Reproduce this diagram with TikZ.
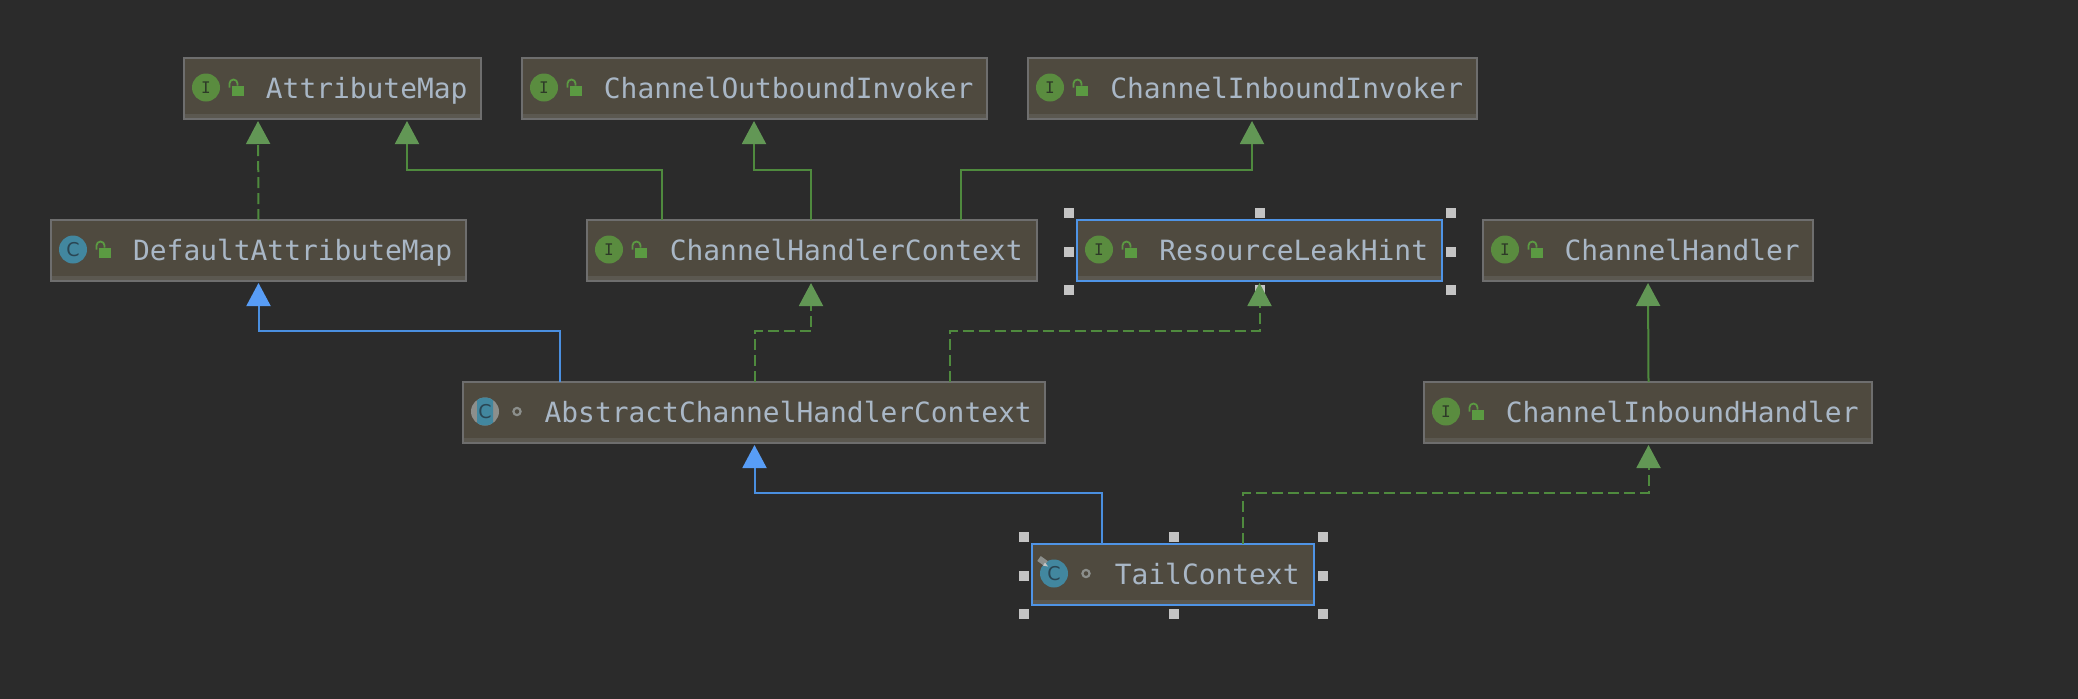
\documentclass[tikz,border=0pt]{standalone}
\usepackage{fontspec}
\setmonofont{DejaVu Sans Mono}
\setsansfont{DejaVu Sans}
\usetikzlibrary{arrows.meta,calc}
\definecolor{bgc}{HTML}{2B2B2B}
\definecolor{boxfill}{HTML}{4F4A3F}
\definecolor{boxband}{HTML}{5B5850}
\definecolor{boxline}{HTML}{6E6E6E}
\definecolor{selblue}{HTML}{4F94E6}
\definecolor{txt}{HTML}{A9B7C6}
\definecolor{greenline}{HTML}{4F8A3E}
\definecolor{greentip}{HTML}{629755}
\definecolor{bluetip}{HTML}{589DF6}
\definecolor{blueline}{HTML}{4A8FE0}
\definecolor{icongreen}{HTML}{5A8C3F}
\definecolor{lockgreen}{HTML}{5B9A42}
\definecolor{iconteal}{HTML}{42879F}
\definecolor{iconink}{HTML}{2A4654}
\definecolor{iink}{HTML}{2E3A28}
\definecolor{icongrey}{HTML}{8C8F8C}
\definecolor{handlec}{HTML}{C4C4C4}
\tikzset{
  x=0.5pt,y=-0.5pt,
  umlbox/.style={draw=boxline,fill=boxfill,line width=1pt,inner sep=0pt,outer sep=0pt,rectangle,
    text=txt,font=\ttfamily\fontsize{13.95}{16}\selectfont,text height=9.5pt,text depth=0pt,
    path picture={\fill[boxband] ($(path picture bounding box.south west)+(0,-5)$) rectangle (path picture bounding box.south east);}},
  selbox/.style={umlbox,draw=selblue},
  handlebox/.style={rectangle,fill=handlec,minimum size=5pt,inner sep=0pt},
  badge/.style={circle,minimum size=14pt,inner sep=0pt},
  ibadge/.style={badge,fill=icongreen,text=iink,font=\ttfamily\fontsize{8}{8}\selectfont},
  cbadge/.style={badge,fill=iconteal,text=iconink,font=\sffamily\fontsize{9.5}{9}\selectfont},
  gline/.style={draw=greenline,line width=1pt,-{Triangle[length=11.5pt,width=12pt,color=greentip,fill=greentip]}},
  gdash/.style={gline,dash pattern=on 5.5pt off 2.5pt},
  bline/.style={draw=blueline,line width=1pt,-{Triangle[length=11.5pt,width=12pt,color=bluetip,fill=bluetip]}},
}
\newcommand{\umlnode}[7][umlbox]{%
  \node[#1,minimum width={(#5-#3)*0.5pt},minimum height={(#6-#4)*0.5pt}] (#2) at ({(#3+#5)/2},{(#4+#6)/2}) {\hspace*{34.2pt}#7};}
\newcommand{\lockicon}[1]{%
  \fill[lockgreen] ($(#1.west)+(48,-3)$) rectangle ($(#1.west)+(60,7)$);
  \draw[lockgreen,line width=0.9pt] ($(#1.west)+(45.5,-1)$) -- ($(#1.west)+(45.5,-5)$) arc[start angle=180,end angle=360,radius=4] -- ($(#1.west)+(53.5,-3)$);}
\newcommand{\iicon}[1]{%
  \node[ibadge] (#1I) at ($(#1.west)+(22,-1)$) {I};\lockicon{#1}}
\newcommand{\cicon}[1]{%
  \node[cbadge] (#1C) at ($(#1.west)+(22,-1)$) {C};}
\newcommand{\pkgdot}[1]{%
  \draw[icongrey,line width=1.1pt] ($(#1.west)+(54,-1)$) circle[radius=3.6];}
\newcommand{\handles}[1]{%
  \foreach \a/\dx/\dy in {north west/-8/-7,north/0.5/-7,north east/9/-7,west/-8/1,east/9/1,south west/-8/9,south/0.5/9,south east/9/9}{%
    \node[handlebox] (#1 h \a) at ($(#1.\a)+(\dx,\dy)$) {};}}
\newcommand{\connS}[5]{% style, from, dx, to, dx
  \draw[#1] ($(#2.north)+(#3,0)$) -- ($(#4.south)+(#5,2)$);}
\newcommand{\connE}[6]{% style, from, dx, to, dx, mid offset
  \draw[#1] ($(#2.north)+(#3,0)$) |- ($(#4.south)+(#5,#6)$) -- ($(#4.south)+(#5,2)$);}
\begin{document}
\begin{tikzpicture}
\useasboundingbox (0,0) rectangle (2078,698);
\fill[bgc] (-5,-5) rectangle (2083,703);
% nodes
\umlnode{attr}{184}{58}{481}{119}{AttributeMap}
\umlnode{out}{522}{58}{987}{119}{ChannelOutboundInvoker}
\umlnode{in}{1028}{58}{1477}{119}{ChannelInboundInvoker}
\umlnode{dam}{51}{220}{466}{281}{DefaultAttributeMap}
\umlnode{chc}{587}{220}{1037}{281}{ChannelHandlerContext}
\umlnode[selbox]{rlh}{1077}{220}{1442}{281}{ResourceLeakHint}
\handles{rlh}
\umlnode{ch}{1483}{220}{1813}{281}{ChannelHandler}
\umlnode{acc}{463}{382}{1045}{443}{AbstractChannelHandlerContext}
\umlnode{cih}{1424}{382}{1872}{443}{ChannelInboundHandler}
\umlnode[selbox]{tail}{1032}{544}{1314}{605}{TailContext}
\handles{tail}
% icons
\iicon{attr}\iicon{out}\iicon{in}\iicon{chc}\iicon{rlh}\iicon{ch}\iicon{cih}
\cicon{dam}\lockicon{dam}
\fill[icongrey] ($(acc.west)+(22,-1)$) circle[radius=14];
\begin{scope}
\clip ($(acc.west)+(14,-16)$) rectangle ($(acc.west)+(30,14)$);
\fill[iconteal] ($(acc.west)+(22,-1)$) circle[radius=14];
\end{scope}
\node[cbadge,fill=none] (accC) at ($(acc.west)+(22,-1)$) {C};
\pkgdot{acc}
\cicon{tail}
\draw[icongrey,line width=3pt] ($(tail.west)+(7,-16)$) -- ($(tail.west)+(14,-11)$);
\fill[handlec] ($(tail.west)+(13,-12)$) -- ($(tail.west)+(16,-8)$) -- ($(tail.west)+(11,-9)$) -- cycle;
\pkgdot{tail}
% connectors
\connS{gdash}{dam}{0}{attr}{-74.5}
\connE{gline}{chc}{-150}{attr}{74.5}{51}
\connE{gline}{chc}{-1}{out}{-0.5}{51}
\connE{gline}{chc}{149}{in}{-0.5}{51}
\connE{bline}{acc}{-194.5}{dam}{0}{50}
\connE{gdash}{acc}{0.5}{chc}{-1}{50}
\connE{gdash}{acc}{195.5}{rlh}{0}{50}
\connS{gline}{cih}{0.5}{ch}{0}
\connE{bline}{tail}{-71}{acc}{0.5}{50}
\connE{gdash}{tail}{70}{cih}{0.5}{50}
\end{tikzpicture}
\end{document}
